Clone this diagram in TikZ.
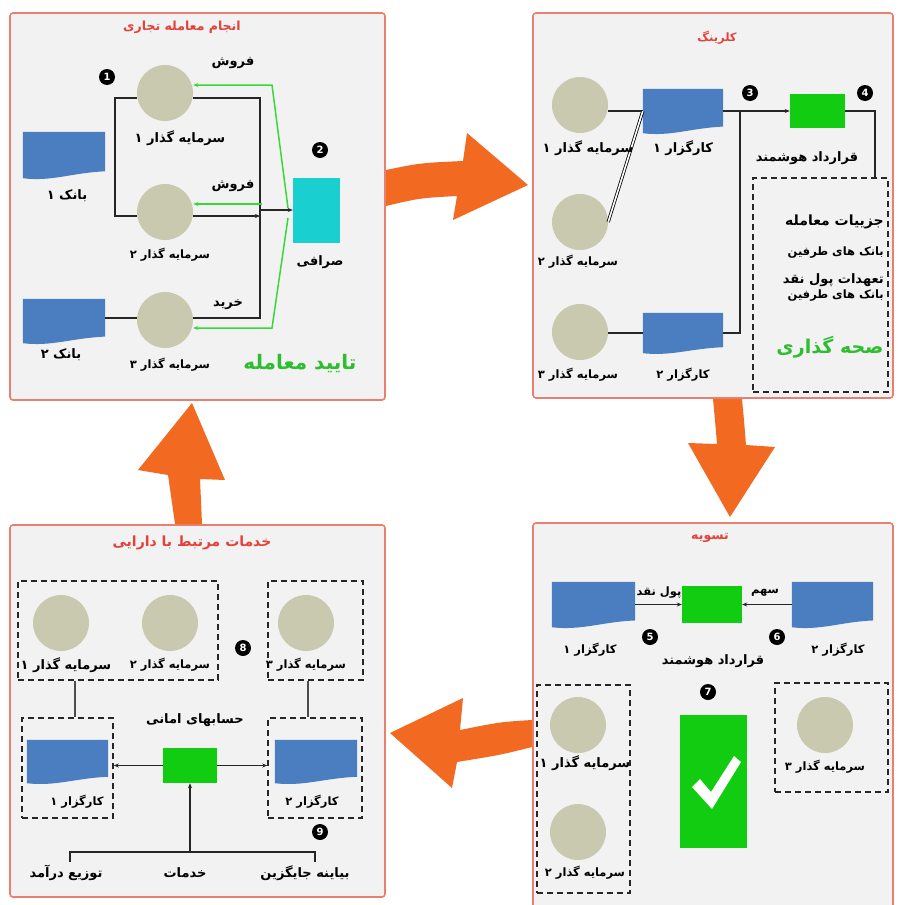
\documentclass[tikz,border=0pt]{standalone}
\usepackage{fontspec}
\usetikzlibrary{arrows.meta,calc}
\TeXXeTstate=1
\newfontfamily\fa[Script=Arabic]{DejaVu Sans}
\newcommand\fat[1]{\beginR #1\endR}
\definecolor{panelbg}{HTML}{F2F2F2}
\definecolor{panelred}{HTML}{E8806F}
\definecolor{arrorange}{HTML}{F26A22}
\definecolor{invgray}{HTML}{C9C9AF}
\definecolor{docblue}{HTML}{4A7EC0}
\definecolor{boxgreen}{HTML}{11CC11}
\definecolor{boxcyan}{HTML}{1ACFCF}
\definecolor{titlered}{HTML}{E3413A}
\definecolor{textgreen}{HTML}{2EBD2E}
\definecolor{linegreen}{HTML}{38D838}
\newcommand\docnode[5]{%
  \node[inner sep=0pt, minimum width=#4pt, minimum height=#5pt] (#1) at (#2,#3) {};
  \fill[docblue] (#1.north west) -- (#1.north east) -- ($(#1.south east)+(0,-0.15*#5)$)
    .. controls ($(#1.south east)+(-0.4*#4,-0.12*#5)$) and ($(#1.south west)+(0.35*#4,0.08*#5)$) .. (#1.south west) -- cycle;}
\begin{document}
\begin{tikzpicture}[x=1pt,y=-1pt,
  panel/.style={draw=panelred, line width=1.6pt, fill=panelbg, rounded corners=3pt},
  bigarrow/.style={fill=arrorange},
  inv/.style={circle, fill=invgray, minimum size=56pt, inner sep=0pt},
  badge/.style={circle, fill=black, text=white, minimum size=16pt, inner sep=0pt, font=\fa\bfseries\fontsize{10}{10}\selectfont},
  gbox/.style={fill=boxgreen, inner sep=0pt},
  dbox/.style={draw=black!85, dash pattern=on 6pt off 4pt, line width=1.6pt, inner sep=0pt},
  ln/.style={draw=black!85, line width=1.3pt},
  gln/.style={draw=linegreen, line width=1.5pt},
  tip/.style={-{Stealth[length=5pt,width=4pt]}},
  ttl/.style={font=\fa\bfseries\fontsize{12.5}{14}\selectfont, text=titlered, inner sep=1pt},
  lbl/.style={font=\fa\bfseries\fontsize{13}{15}\selectfont, text=black, inner sep=1pt},
  slbl/.style={font=\fa\bfseries\fontsize{11.5}{13}\selectfont, text=black, inner sep=1pt},
  big/.style={font=\fa\bfseries\fontsize{20}{22}\selectfont, text=textgreen, inner sep=1pt}]
\clip (0,0) rectangle (897,905);
\fill[white] (0,0) rectangle (897,905);

% ---------------- panels
\draw[panel] (10,13) rectangle (385,400);
\draw[panel] (533,13) rectangle (893,398);
\draw[panel] (533,523) rectangle (893,915);
\draw[panel] (10,525) rectangle (385,897);

% ---------------- big orange arrows
\fill[bigarrow] (386,170) .. controls (420,163) .. (463,161) -- (467,133) -- (528,185) -- (453,220) -- (457,196) .. controls (420,198) .. (386,206) -- cycle;
\fill[bigarrow] (713,399) .. controls (715,420) .. (717,444) -- (688,443) -- (730,517) -- (775,447) -- (746,445) .. controls (744,420) .. (742,399) -- cycle;
\fill[bigarrow] (532,720) .. controls (500,722) .. (460,730) -- (463,698) -- (390,733) -- (452,788) -- (457,762) .. controls (500,755) .. (532,747) -- cycle;
\fill[bigarrow] (175,524) .. controls (172,500) .. (168,475) -- (138,470) -- (192,403) -- (225,480) -- (200,479) .. controls (201,500) .. (202,524) -- cycle;

% ================= panel 1
\node[ttl] (T1) at (182,27) {\fat{انجام معامله تجاری}};
\node[inv] (i1) at (165,93) {};
\node[inv] (i2) at (165,212) {};
\node[inv] (i3) at (165,320) {};
\docnode{bank1}{64}{155}{82}{46}
\docnode{bank2}{64}{321}{82}{44}
\node[fill=boxcyan, minimum width=47pt, minimum height=65pt, inner sep=0pt] (sarr) at (316.5,210.5) {};
\coordinate (p1a) at (115,98);
\coordinate (p1b) at (260,98);
\coordinate (p1c) at (115,216);
\coordinate (p1d) at (260,318);
\coordinate (p1e) at (260,210);
\coordinate (g1a) at (288,208);
\coordinate (g1b) at (272,85);
\coordinate (g2a) at (262,204);
\coordinate (g3a) at (288,218);
\coordinate (g3b) at (272,328);
\draw[ln] (i2.west |- p1c) -- (p1c) -- (p1a) -- (p1a -| i1.west);
\draw[ln] (p1a -| i1.east) -- (p1b) -- (p1d) -- (p1d -| i3.east);
\draw[ln,tip] (i2.east |- p1c) -- (p1c -| p1b);
\draw[ln,tip] (p1e) -- (sarr.west |- p1e);
\draw[ln] (i3.west |- p1d) -- (bank2.east |- p1d);
\draw[gln,tip] (g1a) -- (g1b) -- (g1b -| i1.east);
\draw[gln,tip] (g2a) -- (g2a -| i2.east);
\draw[gln,tip] (g3a) -- (g3b) -- (g3b -| i3.east);
\node[badge] (b1) at (107,77) {1};
\node[badge] (b2) at (320,150) {2};
\node[lbl] (t1a) at (233,63) {\fat{فروش}};
\node[lbl] (t1b) at (233,186) {\fat{فروش}};
\node[lbl] (t1c) at (228,305) {\fat{خرید}};
\node[lbl] (n1a) at (180,138) {\fat{سرمایه گذار ۱}};
\node[slbl] (n1b) at (170,255) {\fat{سرمایه گذار ۲}};
\node[slbl] (n1c) at (170,365) {\fat{سرمایه گذار ۳}};
\node[lbl] (n1d) at (67,196) {\fat{بانک ۱}};
\node[lbl] (n1e) at (61,355) {\fat{بانک ۲}};
\node[lbl] (n1f) at (320,262) {\fat{صرافی}};
\node[big] (n1g) at (300,364) {\fat{تایید معامله}};

% ================= panel 2
\node[ttl, font=\fa\bfseries\fontsize{11.5}{13}\selectfont] (T2) at (717,38) {\fat{کلرینگ}};
\node[inv] (c1) at (580,105) {};
\node[inv] (c2) at (580,222) {};
\node[inv] (c3) at (580,332) {};
\docnode{k1}{683}{111}{80}{44}
\docnode{k2}{683}{333}{80}{40}
\node[gbox, minimum width=55pt, minimum height=34pt] (gb2) at (817.5,111) {};
\node[dbox, minimum width=135pt, minimum height=214pt] (db2) at (820.5,285) {};
\coordinate (j2a) at (740,111);
\coordinate (j2b) at (875,178);
\draw[ln] (c1.east |- k1) -- (k1.west);
\draw[draw=black, line width=0.8pt, double=white, double distance=1.6pt] (c2.east) -- (k1.west);
\draw[ln] (c3.east |- k2) -- (k2.west);
\draw[ln,tip] (k1.east) -- (gb2.west);
\draw[ln] (k2.east) -| (j2a);
\draw[ln] (gb2.east) -| (j2b);
\node[badge] (b3) at (750,93) {3};
\node[badge] (b4) at (865,93) {4};
\node[lbl] (n2a) at (588,148) {\fat{سرمایه گذار ۱}};
\node[slbl] (n2b) at (578,262) {\fat{سرمایه گذار ۲}};
\node[slbl] (n2c) at (578,375) {\fat{سرمایه گذار ۳}};
\node[lbl] (n2d) at (683,148) {\fat{کارگزار ۱}};
\node[slbl] (n2e) at (683,375) {\fat{کارگزار ۲}};
\node[lbl] (n2f) at (807,158) {\fat{قرارداد هوشمند}};
\node[lbl, font=\fa\bfseries\fontsize{14}{16}\selectfont, anchor=east] (n2g) at (885,222) {\fat{جزییات معامله}};
\node[slbl, anchor=east] (n2h) at (885,253) {\fat{بانک های طرفین}};
\node[lbl, anchor=east] (n2i) at (885,280) {\fat{تعهدات پول نقد}};
\node[slbl, anchor=east] (n2j) at (885,296) {\fat{بانک های طرفین}};
\node[big, font=\fa\bfseries\fontsize{19}{21}\selectfont] (n2k) at (830,347) {\fat{صحه گذاری}};

% ================= panel 3
\node[ttl] (T3) at (710,538) {\fat{تسویه}};
\docnode{k31}{593.5}{604.5}{83}{45}
\docnode{k32}{832.5}{604.5}{81}{45}
\node[gbox, minimum width=60pt, minimum height=37pt] (gb3) at (712,604.5) {};
\draw[ln,tip] (k31.east) -- (gb3.west);
\draw[ln,tip] (k32.west) -- (gb3.east);
\node[fill=boxgreen, minimum width=67pt, minimum height=133pt, inner sep=0pt] (ck) at (713.5,781.5) {};
\fill[white] (692,787) -- (700,779) -- (711,792) -- (734,756) -- (741,762) -- (712,809) -- cycle;
\node[dbox, minimum width=93pt, minimum height=208pt] (d3l) at (583.5,789) {};
\node[dbox, minimum width=113pt, minimum height=109pt] (d3r) at (831.5,737.5) {};
\node[inv] (d1) at (578,725) {};
\node[inv] (d2) at (578,832) {};
\node[inv] (d3) at (825,725) {};
\node[badge] (b5) at (650,637) {5};
\node[badge] (b6) at (777,637) {6};
\node[badge] (b7) at (708,692) {7};
\node[slbl] (n3a) at (659,593) {\fat{پول نقد}};
\node[slbl] (n3b) at (765,593) {\fat{سهم}};
\node[slbl] (n3c) at (590,650) {\fat{کارگزار ۱}};
\node[slbl] (n3d) at (838,650) {\fat{کارگزار ۲}};
\node[lbl] (n3e) at (713,661) {\fat{قرارداد هوشمند}};
\node[lbl] (n3f) at (585,763) {\fat{سرمایه گذار ۱}};
\node[slbl] (n3g) at (585,873) {\fat{سرمایه گذار ۲}};
\node[slbl] (n3h) at (825,767) {\fat{سرمایه گذار ۳}};

% ================= panel 4
\node[ttl, font=\fa\bfseries\fontsize{14}{16}\selectfont] (T4) at (192,543) {\fat{خدمات مرتبط با دارایی}};
\node[dbox, minimum width=200pt, minimum height=99pt] (dA) at (118,630.5) {};
\node[dbox, minimum width=95pt, minimum height=99pt] (dB) at (315.5,630.5) {};
\node[dbox, minimum width=91pt, minimum height=100pt] (dC) at (67.5,768) {};
\node[dbox, minimum width=94pt, minimum height=100pt] (dD) at (315,768) {};
\node[inv] (e1) at (61,623) {};
\node[inv] (e2) at (170,623) {};
\node[inv] (e3) at (306,623) {};
\docnode{kk1}{67.5}{761.5}{81}{43}
\docnode{kk2}{316}{761.5}{82}{43}
\node[gbox, minimum width=54pt, minimum height=35pt] (gb4) at (190,765.5) {};
\coordinate (x75) at (75,0);
\coordinate (x308) at (308,0);
\coordinate (tl) at (70,862);
\coordinate (tr) at (315,862);
\coordinate (tm) at (190,852);
\draw[ln, draw=black!70] (dA.south -| x75) -- (dC.north -| x75);
\draw[ln, draw=black!70] (dB.south -| x308) -- (dD.north -| x308);
\draw[ln,tip] (gb4.west) -- (dC.east |- gb4.west);
\draw[ln,tip] (gb4.east) -- (dD.west |- gb4.east);
\draw[ln] (tl) -- (tl |- tm) -- (tr |- tm) -- (tr);
\draw[ln,tip] (tm) -- (gb4.south);
\node[badge] (b8) at (243,648) {8};
\node[badge] (b9) at (320,832) {9};
\node[lbl] (n4a) at (66,665) {\fat{سرمایه گذار ۱}};
\node[slbl] (n4b) at (170,665) {\fat{سرمایه گذار ۲}};
\node[slbl] (n4c) at (306,665) {\fat{سرمایه گذار ۳}};
\node[lbl] (n4d) at (195,720) {\fat{حسابهای امانی}};
\node[slbl] (n4e) at (77,802) {\fat{کارگزار ۱}};
\node[slbl] (n4f) at (312,802) {\fat{کارگزار ۲}};
\node[lbl] (n4g) at (66,873) {\fat{توزیع درآمد}};
\node[lbl] (n4h) at (185,873) {\fat{خدمات}};
\node[lbl] (n4i) at (305,873) {\fat{بیاینه جایگزین}};
\end{tikzpicture}
\end{document}
